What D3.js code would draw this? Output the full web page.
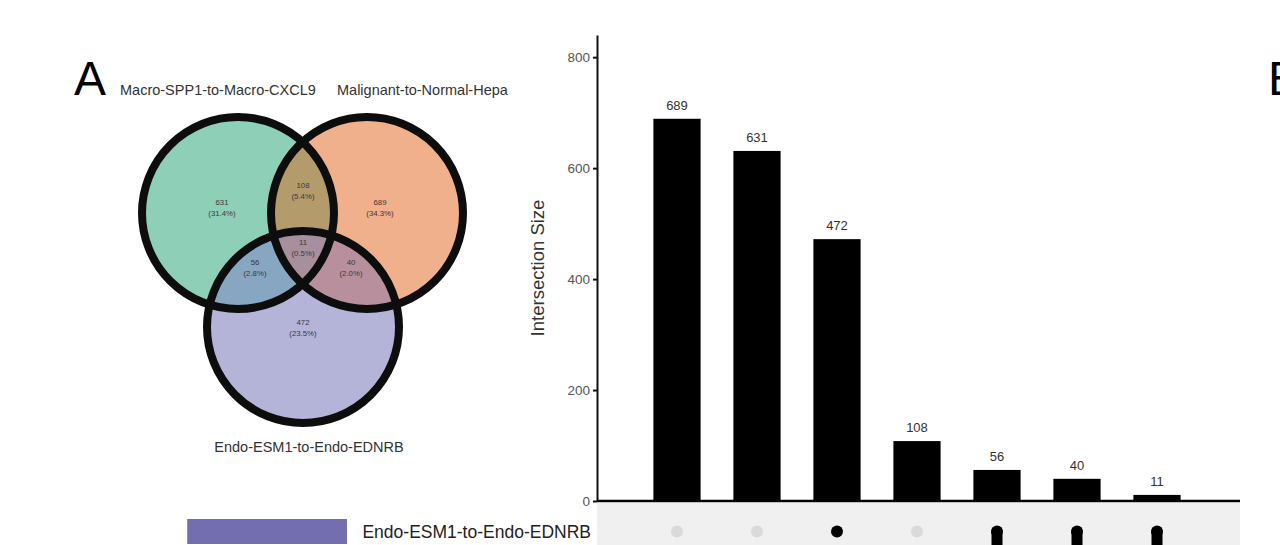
<!DOCTYPE html>
<html lang="en">
<head>
    <meta charset="UTF-8">
    <title>Venn + UpSet</title>
    <script src="https://d3js.org/d3.v7.min.js"></script>
    <style>
        body { margin: 0; background: #fff; }
        svg { display: block; font-family: Arial, "Liberation Sans", sans-serif; }
    </style>
</head>
<body>
<script>
    /* data */
    const setNames = ["Endo-ESM1-to-Endo-EDNRB", "Macro-SPP1-to-Macro-CXCL9", "Malignant-to-Normal-Hepa"];
    const intersectionSets = [
        ["Malignant-to-Normal-Hepa"],
        ["Macro-SPP1-to-Macro-CXCL9"],
        ["Endo-ESM1-to-Endo-EDNRB"],
        ["Macro-SPP1-to-Macro-CXCL9", "Malignant-to-Normal-Hepa"],
        ["Macro-SPP1-to-Macro-CXCL9", "Endo-ESM1-to-Endo-EDNRB"],
        ["Malignant-to-Normal-Hepa", "Endo-ESM1-to-Endo-EDNRB"],
        ["Macro-SPP1-to-Macro-CXCL9", "Malignant-to-Normal-Hepa", "Endo-ESM1-to-Endo-EDNRB"]
    ];
    const intersectionSizes = [689, 631, 472, 108, 56, 40, 11];
    const yTicks = [0, 200, 400, 600, 800];

    /* styles */
    const setBarColors = ["#726eb0", "#5fb89a", "#e8956a"];
    // venn region fills, keyed by sorted set indexes
    const regionColors = {
        "0": "#b4b4d8", "1": "#8ecfb8", "2": "#efb08b",
        "0,1": "#86a6c2", "0,2": "#b78f9d", "1,2": "#b49b6c",
        "0,1,2": "#a88f9e"
    };

    let width = 1280, height = 545;
    let svg = d3.select("body").append("svg")
                .attr("width", width)
                .attr("height", height);

    /* ================= Venn (panel A) ================= */
    // circle layout for each set (same order as setNames)
    let circles = [
        { cx: 303, cy: 327, r: 96 },
        { cx: 238, cy: 213, r: 96 },
        { cx: 367, cy: 213, r: 96 }
    ];
    // label anchor for each intersection (same order as intersectionSets)
    let regionLabelPos = [[380, 205], [222, 205], [303, 325], [303, 188], [255, 265], [351, 265], [303, 245]];

    let total = d3.sum(intersectionSizes);
    let idx = s => setNames.indexOf(s);

    let venn = svg.append("g");
    let defs = svg.append("defs");
    circles.forEach((c, i) => {
        defs.append("clipPath").attr("id", "clip" + i)
            .append("circle").attr("cx", c.cx).attr("cy", c.cy).attr("r", c.r);
    });

    // single sets
    venn.selectAll(".base")
        .data(circles)
        .enter()
        .append("circle")
        .attr("class", "base")
        .attr("cx", d => d.cx).attr("cy", d => d.cy).attr("r", d => d.r)
        .attr("fill", (d, i) => regionColors[String(i)]);

    // overlaps: nest clip groups, pairs first then the triple
    intersectionSets
        .map(s => s.map(idx).sort())
        .filter(k => k.length > 1)
        .sort((a, b) => a.length - b.length)
        .forEach(k => {
            let g = venn;
            k.slice(0, -1).forEach(i => {
                g = g.append("g").attr("clip-path", `url(#clip${i})`);
            });
            let c = circles[k[k.length - 1]];
            g.append("circle")
             .attr("cx", c.cx).attr("cy", c.cy).attr("r", c.r)
             .attr("fill", regionColors[k.join(",")]);
        });

    // outlines
    venn.selectAll(".ring")
        .data(circles)
        .enter()
        .append("circle")
        .attr("class", "ring")
        .attr("cx", d => d.cx).attr("cy", d => d.cy).attr("r", d => d.r)
        .attr("fill", "none")
        .attr("stroke", "#0d0d0d")
        .attr("stroke-width", 8);

    // region counts
    let regionText = venn.selectAll(".regionText")
        .data(intersectionSizes)
        .enter()
        .append("text")
        .attr("class", "regionText")
        .attr("x", (d, i) => regionLabelPos[i][0])
        .attr("y", (d, i) => regionLabelPos[i][1])
        .attr("text-anchor", "middle")
        .attr("font-size", 7.8)
        .attr("fill", "#3a3a3a");
    regionText.append("tspan").text(d => d);
    regionText.append("tspan")
        .attr("x", (d, i) => regionLabelPos[i][0])
        .attr("dy", 11)
        .text(d => "(" + (d / total * 100).toFixed(1) + "%)");

    // set names around the venn
    svg.append("text").attr("x", 120).attr("y", 95)
       .attr("font-size", 14.5).attr("fill", "#333")
       .text(setNames[1]);
    svg.append("text").attr("x", 337).attr("y", 95)
       .attr("font-size", 14.5).attr("fill", "#333")
       .text(setNames[2]);
    svg.append("text").attr("x", 309).attr("y", 452)
       .attr("text-anchor", "middle")
       .attr("font-size", 14.5).attr("fill", "#333")
       .text(setNames[0]);

    // panel letters
    svg.append("text").attr("x", 74).attr("y", 95).attr("font-size", 48).text("A");
    svg.append("text").attr("x", 1268).attr("y", 95).attr("font-size", 48).text("B");

    /* ================= UpSet (panel B) ================= */
    let xScale = d3.scaleBand()
                   .domain(d3.range(intersectionSizes.length))
                   .range([637, 1197])
                   .paddingInner(0.41)
                   .paddingOuter(0.205);
    let yScale = d3.scaleLinear().domain([0, 840]).range([501, 35]);

    let yAxis = d3.axisLeft(yScale)
                  .tickValues(yTicks)
                  .tickSize(4)
                  .tickSizeOuter(0)
                  .tickPadding(3);
    let yg = svg.append("g")
                .attr("transform", "translate(597, 0)")
                .call(yAxis);
    yg.select(".domain").attr("stroke", "#111").attr("stroke-width", 2);
    yg.selectAll(".tick line").attr("stroke", "#111").attr("stroke-width", 2);
    yg.selectAll(".tick text")
      .attr("font-size", 13.5)
      .attr("font-family", "Arial, 'Liberation Sans', sans-serif")
      .attr("fill", "#555");

    svg.append("text")
       .attr("transform", `translate(544, ${yScale(420)}) rotate(-90)`)
       .attr("text-anchor", "middle")
       .attr("font-size", 18.5)
       .attr("fill", "#333")
       .text("Intersection Size");

    // matrix background rows
    let rowScale = d3.scaleBand().domain(setNames).range([503, 503 + setNames.length * 57]);
    let rowMid = s => rowScale(s) + rowScale.bandwidth() / 2;
    svg.selectAll(".rowBg")
       .data(setNames)
       .enter()
       .append("rect")
       .attr("class", "rowBg")
       .attr("x", 597)
       .attr("y", d => rowScale(d))
       .attr("width", 1240 - 597)
       .attr("height", rowScale.bandwidth())
       .attr("fill", (d, i) => i % 2 === 0 ? "#f0f0f0" : "#ffffff");

    // bars
    svg.selectAll(".bar")
       .data(intersectionSizes)
       .enter()
       .append("rect")
       .attr("class", "bar")
       .attr("x", (d, i) => xScale(i))
       .attr("y", d => yScale(d))
       .attr("width", xScale.bandwidth())
       .attr("height", d => yScale(0) - yScale(d))
       .attr("fill", "#000");

    svg.selectAll(".numText")
       .data(intersectionSizes)
       .enter()
       .append("text")
       .attr("class", "numText")
       .attr("x", (d, i) => xScale(i) + xScale.bandwidth() / 2)
       .attr("y", d => yScale(d) - 9)
       .attr("text-anchor", "middle")
       .attr("font-size", 13)
       .attr("fill", "#333")
       .text(d => d);

    // baseline
    svg.append("line")
       .attr("x1", 597).attr("x2", 1240)
       .attr("y1", yScale(0)).attr("y2", yScale(0))
       .attr("stroke", "#000").attr("stroke-width", 2.5);

    // matrix: dots and connectors
    intersectionSets.forEach((members, i) => {
        let cx = xScale(i) + xScale.bandwidth() / 2;
        if (members.length > 1) {
            let ys = members.map(rowMid);
            svg.append("line")
               .attr("x1", cx).attr("x2", cx)
               .attr("y1", d3.min(ys)).attr("y2", d3.max(ys))
               .attr("stroke", "#000").attr("stroke-width", 11)
               .attr("stroke-linecap", "round");
        }
        setNames.forEach(s => {
            svg.append("circle")
               .attr("cx", cx).attr("cy", rowMid(s)).attr("r", 6)
               .attr("fill", members.includes(s) ? "#000" : "#dadada");
        });
    });

    // set size bars (grow leftwards) and row labels; rows below the frame are left out
    let setSizes = setNames.map(s => d3.sum(intersectionSets.map((m, i) => m.includes(s) ? intersectionSizes[i] : 0)));
    let sizeScale = d3.scaleLinear().domain([0, d3.max(setSizes)]).range([0, 234]);
    let visibleSets = setNames.filter(s => rowMid(s) < height);
    svg.selectAll(".setBar")
       .data(visibleSets)
       .enter()
       .append("rect")
       .attr("class", "setBar")
       .attr("x", d => 347 - sizeScale(setSizes[idx(d)]))
       .attr("y", d => rowMid(d) - 12.5)
       .attr("width", d => sizeScale(setSizes[idx(d)]))
       .attr("height", 25)
       .attr("fill", d => setBarColors[idx(d)]);

    svg.selectAll(".setLabel")
       .data(visibleSets)
       .enter()
       .append("text")
       .attr("class", "setLabel")
       .attr("x", 591)
       .attr("y", d => rowMid(d) + 6.5)
       .attr("text-anchor", "end")
       .attr("font-size", 17.5)
       .attr("fill", "#222")
       .text(d => d);
</script>
</body>
</html>
